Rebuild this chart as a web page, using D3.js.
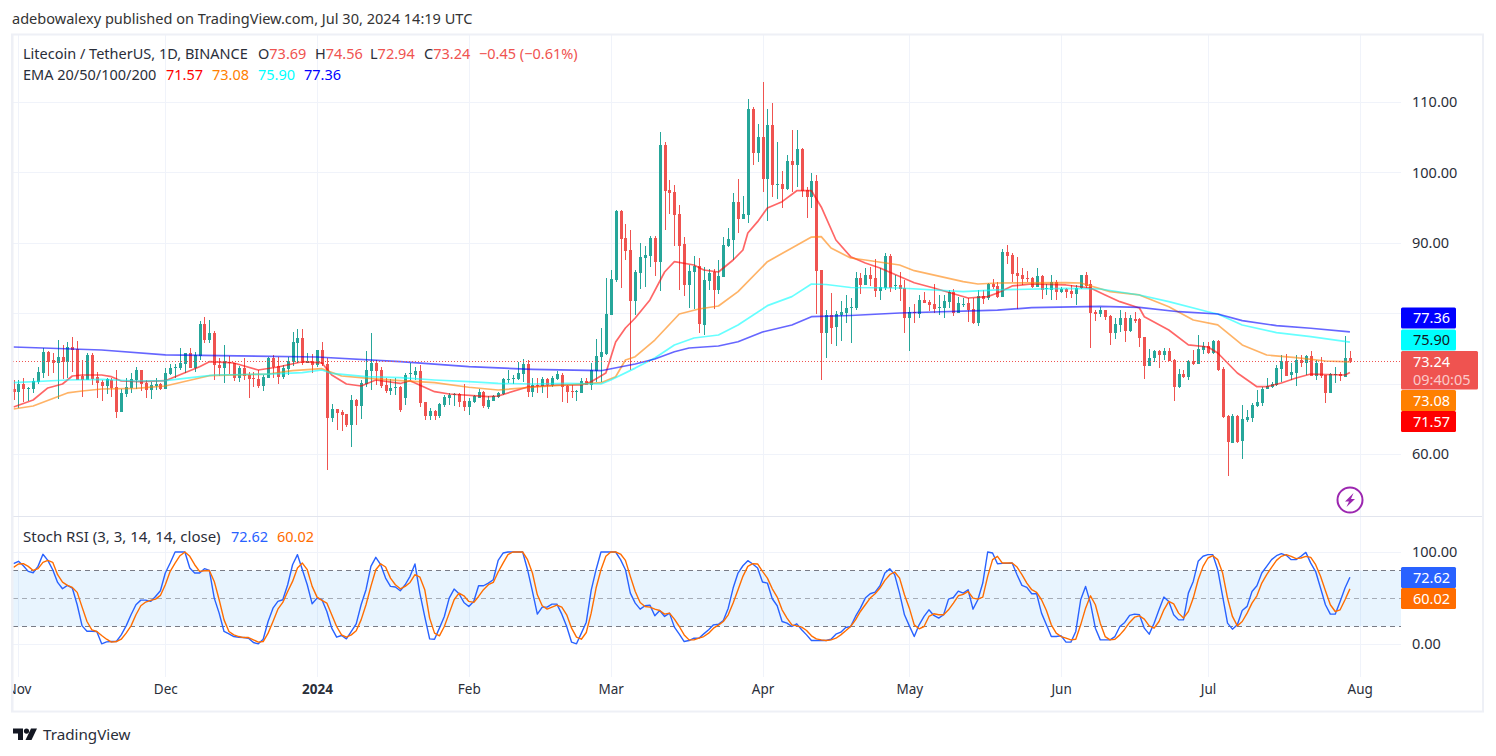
<!DOCTYPE html>
<html>
<head>
<meta charset="utf-8">
<title>LTC/USDT 1D</title>
<script src="https://d3js.org/d3.v7.min.js"></script>
<style>
  html, body { margin: 0; padding: 0; background: #fff; }
  svg { display: block; }
  text { font-family: "Noto Sans", "Open Sans", sans-serif; }
</style>
</head>
<body>
<div id="chart"></div>
<script>
// Daily LTC/USDT candles, 31 Oct 2023 through 30 Jul 2024, one entry per day.
const opens = [69.2,
  68.85,69.94,69.3,69.23,70.2,71.45,74.48,73.35,72.87,73.77,
  73.06,75.2,74.86,71.07,70.5,74.06,70.93,70.2,69.65,70.5,
  69.47,65.96,68.52,69.37,70.5,71.93,70.08,69.09,69.65,69.98,
  69.23,71.36,72.21,72.21,72.78,74.34,72.21,73.9,78.46,76.2,
  77.18,72.64,72.21,73.1,72.87,70.8,72.21,71.2,70.8,70.65,
  69.65,70.8,73.63,72.5,70.98,72.07,73.1,75.76,76.47,72.9,
  73.2,72.64,74.77,72.78,65.11,66.39,65.96,65.68,64.1,67.67,
  66.81,69.94,71.8,72.92,71.93,69.8,68.95,69.4,69.56,68.0,
  71.3,71.2,71.8,67.38,65.4,66.1,65.4,67,67.95,68.43,
  68.5,67.5,66.67,67.38,68,68.85,66.72,67.57,68.1,68.5,
  70.55,70.6,70.65,71.36,72.78,68.85,69.8,69.65,70.65,69.8,
  70.65,71.2,69.65,68.9,68.85,68.7,70.4,69.8,71.83,73.83,
  74.2,79.75,84.72,94.52,90.64,88.98,81.79,85.76,87.9,88.13,
  90.73,87.32,103.9,97.5,97.22,94.1,89.83,84.01,85.86,86.71,
  78.33,84.58,85.86,83.3,85.15,89.55,90.4,95.8,93.38,93.95,
  109,102.76,105.03,99.07,106.74,98.26,98.36,97.65,101.62,101.06,
  103.33,97.5,96.51,98.78,86.14,77.19,79.75,78.05,79.75,80.03,
  80.74,80.74,85,84.01,85.43,85,83.16,83.58,88.13,83.91,
  84.01,83.58,79.32,80.17,79.89,81.88,81.64,81.31,80.79,80.74,
  81.59,83.01,80.03,81.26,81.45,80.6,78.61,82.45,82.16,84.15,
  83.87,82.35,88.69,88.27,85.71,85.43,85,85,83.72,85.29,
  83.39,83.3,84.43,83.01,83.44,83.16,82.73,83.58,85.43,84.15,
  80.22,79.94,80.46,79.6,77.19,78.33,79.28,77.52,79.18,79.13,
  76.67,72.5,73.69,74.64,74.07,74.64,73.36,69.47,71.37,70.89,
  73.21,72.79,74.78,75.34,74.3,76.1,72.13,65.4,61.61,65.4,
  61.9,64.83,65.12,66.82,67.2,69.19,69.57,69.81,72.03,73.26,
  71.23,71.46,73.36,72.98,73.92,71.13,72.98,71.23,68.72,71.23,
  71.32,70.99,73.69];

const closes = [68.85,
  69.94,69.23,69.4,70.36,71.64,74.53,73.1,72.87,73.77,73.06,
  75.2,74.77,70.5,70.5,74.06,70.7,70.08,69.65,70.6,69.37,
  65.96,68.66,69.47,70.65,71.93,69.94,69.09,69.8,69.94,69.23,
  71.5,72.21,72.35,72.92,74.34,72.21,74,78.46,76.2,77.18,
  72.64,72.21,73.2,73.06,70.8,72.21,71.07,70.65,70.7,69.65,
  70.93,73.63,72.35,70.98,72.21,73.2,75.9,76.47,72.87,73.2,
  72.64,74.77,72.78,65.11,66.39,65.82,65.54,64.1,67.67,66.81,
  70.08,71.93,72.92,71.8,69.65,68.95,69.37,69.5,66.25,71.2,
  71.45,71.8,67.3,65.4,66.15,65.4,67.05,68.05,68.4,68.52,
  67.4,66.72,67.5,68.24,68.85,66.8,67.67,68.2,68.6,70.6,
  70.65,70.74,71.55,72.73,68.85,69.8,69.65,70.6,69.8,70.74,
  71.3,69.47,68.8,68.85,68.95,70.4,69.8,71.93,73.92,74.45,
  79.84,84.86,94.52,90.54,88.84,81.79,85.86,87.99,88.27,90.73,
  87.32,103.9,97.36,97.08,93.95,89.55,84.01,86,86.71,78.42,
  84.72,85.71,83.3,85.29,89.69,90.54,95.8,93.38,94.1,109,
  102.76,105,99.07,106.74,98.2,98.36,97.65,101.62,101.06,103.33,
  97.36,96.51,98.78,86,77.19,79.75,77.9,79.89,80.17,80.74,
  80.83,84.95,84.01,85.43,84.86,83.16,83.72,88.13,83.58,84.01,
  83.44,79.32,80.17,80.03,81.92,81.45,81.17,80.6,80.88,81.73,
  83.01,80.03,81.45,81.36,80.46,78.61,82.45,82.02,84.15,83.72,
  82.35,88.69,88.13,85.57,85.29,84.86,84.86,83.72,85.29,83.3,
  83.58,84.43,83.01,83.44,83.01,82.73,83.58,85.43,83.87,80.03,
  79.94,80.46,79.46,77.19,78.47,79.28,77.52,79.28,78.9,76.43,
  72.5,73.69,74.64,74.07,74.64,73.26,69.57,71.37,70.99,73.21,
  72.79,74.92,75.34,74.3,76.1,71.94,65.21,61.76,65.4,61.76,
  64.98,65.26,66.96,67.39,69.24,69.66,69.9,72.27,73.26,71.13,
  71.65,73.36,72.98,73.92,71.13,72.98,71.08,68.62,71.37,71.37,
  71.08,73.69,73.24];

const highs = [70.5,
  70.5,70.74,69.5,70.74,72.3,75,74.63,74.3,76.2,75.48,
  75.9,76.66,76.05,73.35,74.4,74.3,71.64,70.5,70.74,70.74,
  71.93,69.3,70.74,71.45,72.4,71.93,70.5,70.27,70.74,70.13,
  72.26,72.78,72.78,75.1,74.34,75.1,74.5,78.9,79.45,79,
  77.47,73.7,75.48,73.9,72.87,72.5,73.63,71.64,71.64,71.93,
  71.2,73.82,74,73.82,72.64,73.82,77.3,77.75,77.75,74.4,
  74.2,74.77,75.9,73.63,67.1,66.39,66.25,65.68,68.4,67.86,
  70.5,74.6,77.18,73.35,72.3,70.74,70.6,70.74,69.7,71.45,
  72.87,72.4,72.64,67.38,66.48,66.25,67.2,68.4,68.6,68.6,
  68.6,70,67.9,68.4,69.2,68.95,68.24,68.4,68.85,70.74,
  71.93,71.2,73.1,73.44,73.35,70.74,70.84,70.98,70.74,71.07,
  71.8,71.45,69.8,69.8,69.09,70.74,70.74,72.87,76.28,77.85,
  84.96,86.14,94.66,94.66,92.67,91.82,86.14,89.93,89.55,91.02,
  91,105.74,104.28,98.93,98.2,95.37,90.78,86.85,88.13,87.9,
  86.6,86.28,86.28,87.56,90.78,92.06,97.03,99.02,96.65,110.43,
  109.25,106.88,112.8,108.96,109.82,104.32,100.2,102.48,106,106,
  103.4,97.98,99.87,99.63,86.14,80.46,82.8,80.36,81.78,82.59,
  82.11,85.9,85.76,86.37,86.61,87.7,86.37,88.5,88.41,85.43,
  85.9,84.72,80.93,81.31,82.59,83.01,81.88,84.15,82.59,82.59,
  83.3,83.39,82.35,82.11,82.11,82.11,83.3,83.3,84.34,84.81,
  84.48,89.17,89.69,88.6,88.03,86.37,85.95,85.19,86.37,85.43,
  84.15,85.43,84.72,83.77,83.58,84.01,84.01,85.43,85.81,84.72,
  80.46,80.83,80.46,79.75,79.27,80.46,80.22,79.75,80.22,79.28,
  76.67,74.92,74.78,74.78,75.01,75.01,73.5,72.03,71.94,73.36,
  74.78,76.9,75.91,75.91,76.2,76.2,72.32,65.54,65.69,65.54,
  66.96,66.25,67.3,69.1,69.57,70.75,70.28,72.65,74.07,74.16,
  72.98,74.07,74.07,74.07,74.64,73.36,73.83,71.23,71.56,72.32,
  71.7,76.77,74.56];

const lows = [67.6,
  66.5,67.4,67.57,68.6,70,70.8,71.1,71.45,67.8,70.65,
  70.75,71.7,70.5,68.05,70.5,69.8,67.95,67.57,68.5,68.05,
  65.16,65.96,68.14,68.6,69.3,68.95,67.95,67.8,69.09,69.09,
  69.23,71.2,70.74,71.93,71.45,72.21,71.7,73.35,75.7,75.7,
  70.5,71.07,70.08,71.36,70.4,70.27,70.5,67.95,69.56,69.4,
  68.95,70.74,70.74,70,70.65,71.2,72.5,72.87,72.64,72.87,
  71.45,72.3,72.5,57.72,64.54,63.4,63.26,63.8,61.04,64.1,
  64.97,69.56,69.09,69.8,69.37,68.7,68.4,68.4,66,67,
  70.5,70.5,66.72,64.82,64.82,64.82,65.1,66.72,67,66.8,
  66.72,66.15,65.54,67.2,67.9,66.5,66.43,67.5,67.9,68.4,
  70.03,69.94,70.5,70.27,68.14,68.14,68.6,68.6,67.9,69.56,
  70.5,67.43,67.3,67.9,67.5,68.7,69.8,69.09,70.27,70.28,
  74,79.75,84.48,83.54,87.56,71.94,79.75,83.44,83.77,86.61,
  85.34,83.16,91.82,94.1,89.55,83.3,82.5,80.74,80.6,77.15,
  76.9,83.3,80.65,82.73,85.15,89.45,87.56,91.35,93.38,92.86,
  101.06,101.53,97.27,93.15,96.56,96.23,95,97.5,97.27,97.98,
  96.56,93.53,95,79.84,70.52,73.6,75.63,75.34,76.1,78.55,
  75.82,80.46,82.73,84.01,83.87,82.35,81.88,83.3,83.06,83.3,
  81.73,77.24,74.63,78.66,79.27,81.45,80.31,79.98,79.75,79.32,
  80.79,79.6,79.98,80.83,78.8,78.47,78.18,81.31,81.88,83.39,
  82.11,82.26,87,84.48,80.55,84.01,84.48,83.53,83.68,82.02,
  82.59,81.88,81.88,82.92,82.16,82.16,81.17,83.39,83.53,75.06,
  78.94,79.41,79.04,75.49,76.38,77.38,75.96,77.38,78.57,75.25,
  70.66,72.5,73.12,72.27,73.36,73.21,67.53,69.33,70.75,70.52,
  72.65,72.79,74.16,74.16,74.2,71.79,65.07,56.88,61.52,61.61,
  59.29,64.6,64.5,66.73,66.82,69.19,69.33,69.71,70.28,71.08,
  70.52,69.71,72.41,71.23,71.13,70.52,70.85,67.3,68.62,70.04,
  70.42,70.99,72.94];

// Moving averages, read at their bends: offsets count days from the first candle.
const ema200Days = [0,18,31,62,79,93,106,120,127,131,135,138,144,148,153,159,163,171,181,201,208,222,230,238,246,251,258,265,273];
const ema200 = [75.2,74.77,74.07,73.78,73.11,72.4,72.03,71.83,72.78,73.49,74.53,75.06,75.34,75.95,77.33,78.33,79.5,79.67,80.03,80.45,80.78,80.98,80.84,80.21,79.89,78.94,78.23,77.86,77.36];

const ema100Days = [0,11,18,25,31,38,41,52,59,63,65,72,79,86,93,99,106,113,120,122,127,131,135,139,144,148,154,159,163,166,171,181,194,201,215,222,226,230,236,244,246,251,258,265,273];
const ema100 = [70.13,70.51,70.6,70.37,70.41,70.98,71.22,71.36,71.55,71.93,71.46,70.98,70.84,70.51,70.27,70.04,69.94,70.04,69.94,70.51,72.2,73.64,75.49,76.48,76.9,78.33,81.07,82.35,84.15,84.08,83.65,83.58,83.06,83.3,83.54,83.44,83.01,82.59,81.64,80.21,79.89,78.33,77.23,76.66,75.9];

const ema50Days = [0,4,11,14,18,25,31,38,40,52,57,63,67,72,79,86,93,99,106,113,120,123,125,127,131,136,140,144,148,154,159,163,165,167,171,174,181,184,194,197,201,215,218,224,230,236,241,246,251,256,262,268,273];
const ema50 = [66.39,66.82,68.67,68.95,69.23,69.33,69.66,70.79,71.12,71.36,71.83,72.12,71.08,70.79,70.41,70.13,69.48,69.09,69.48,69.8,70.13,70.98,73.35,73.82,76.19,79.89,80.6,81.02,83.06,87.32,89.26,90.82,90.87,89.26,87.84,87.56,86.85,86.04,84.48,84.15,84.29,84.33,84.29,83.06,82.59,80.92,79.03,78.33,75.49,74.06,73.68,73.21,73.08];

const ema20Days = [0,4,7,10,12,14,18,20,22,26,31,35,38,40,45,50,54,59,63,65,68,71,74,79,81,86,89,97,99,105,111,116,118,121,123,125,127,130,133,135,139,141,144,147,149,150,152,154,157,160,163,165,168,171,174,177,184,188,195,199,201,204,208,215,220,223,226,230,231,236,240,244,246,250,254,256,259,262,265,272,273];
const ema20 = [66.68,67.67,69.38,69.94,71.08,71.22,71.22,70.98,70.37,70.27,70.41,71.55,72.4,73.11,72.93,71.93,72.36,73.11,72.93,71.22,69.94,69.66,70.51,70.02,70.41,68.85,68.52,68.14,68.24,69.52,69.8,69.8,70.27,71.51,75.91,77.9,79.32,81.88,85.85,87.32,86.85,86.14,85.85,87.56,88.98,91.39,93,94.94,95.84,97.4,97.4,95.09,90.4,88.03,87.13,86.42,84.33,83.58,82.16,82.35,82.87,83.87,84.15,84.01,83.58,82.59,81.64,80.74,79.5,77.62,75.49,75.2,74.35,71.51,69.56,69.56,70.09,70.8,71.36,71.22,71.57];

// Stochastic RSI, one entry per candle.
const stochK = [87.3,
  89.9,85.1,79,77.5,84.4,97.5,90.9,80.8,67,60.1,
  63.8,60.9,42.8,19.9,14.1,14.1,13.8,0.4,2.5,2.9,
  2.9,10.1,19.9,31.9,42.8,47.8,47.8,46.4,51.8,58,
  77.2,88,100,100,100,82.6,77.2,77.2,81.9,80,
  50,33.7,13.8,11.2,8.3,7.6,7.2,6.5,1.8,0.4,
  5.4,24.6,39.1,46.4,48.2,64.5,86.2,97.1,80.8,64.5,
  43.8,50,48.2,35.5,17.4,7.6,9.4,5.8,13.8,22.1,
  42.8,59.1,84.4,94.2,86.2,71.7,62.7,62,58,64.5,
  73.6,87,55.4,30,5.8,5.4,17.4,30,50,59.8,
  54.7,45.3,40.9,46.4,63.4,63.4,66.3,69.9,90.9,98.9,
  100,100,100,100,80.8,57.2,32.6,40.2,40.2,43.5,
  43.5,32.6,19.2,2.2,0.4,12,23.9,58.3,80.8,100,
  100,100,100,91.7,80.8,55.4,44.6,38,41.7,42.4,
  30.8,36.6,30.1,33.7,18.5,10.9,2.9,4,6.5,6.5,
  11.2,15.6,21,21.7,25.7,39.1,60.9,77.2,85.1,90.6,
  87,82.6,67.4,66.3,49.3,41.7,24.6,22.8,19.2,22.1,
  15.6,10.1,4,4,4,4,5.4,10.9,13,18.1,
  19.2,30.1,39.1,50,54.7,56.5,63.4,77.2,81.9,75.4,
  55.4,31.9,19.9,8.3,21,30.1,37.3,31.2,28.3,31.9,
  48.9,50.7,57.6,55.4,59.1,38,48.2,66.3,100,98.9,
  87.3,87.7,87.7,88,75.4,63.8,61.6,54.7,54.7,33.7,
  21,8.3,8.3,9.1,2.2,2.2,13.8,48.2,62.7,44.6,
  17.4,4.7,4.7,4.7,8.3,19.2,23.6,31.2,32.6,31.9,
  17.4,10.9,22.8,37.3,51.1,46.4,32,26.4,26.4,55.4,
  68.1,89.9,95.4,97.1,97.1,80.8,51.8,22.8,16.3,21,
  36.6,41,57.2,63.4,77.2,84.4,91.7,96,98.2,96.4,
  91.7,91.7,95.4,99.6,87.9,78.8,60.9,42.8,32.6,32.6,
  46.4,60.9,72.62];

const stochD = [83.3,
  87,87.3,84.4,80,81.9,88.8,90.9,88.8,75.4,67.4,
  63.8,61.6,56.2,40.2,24.6,15.6,13.8,9.4,5.4,2.2,
  2.9,5.4,12,19.9,31.9,41.7,45.7,47.5,48.9,52.9,
  64.5,79,88,96,100,95.3,86.2,79,79.7,80,
  68.1,48.2,26.4,13.8,10.1,8.3,7.2,7.2,4.7,2.2,
  2.9,12,24.6,38,45.3,57.2,68.1,82.6,88,80.8,
  62.7,51.1,47.5,44.6,31.9,19.2,10.1,7.6,10.1,14.5,
  26.4,42.8,62.7,80.8,87.3,83.7,71.7,64.5,60.1,62.7,
  67,75.4,72.8,59.1,28.3,12,9.1,19.2,33.7,48.2,
  55.4,52.5,46.4,45.3,51.8,59.1,64.5,67,78.3,88,
  97.1,100,100,100,91.7,77.2,53.6,41.7,38,40.2,
  42.4,40.2,31.9,17.4,7.6,5.4,12.7,33.7,60.9,80.8,
  95.3,100,100,97.8,90.9,73.6,57.2,45.3,40.9,40.2,
  38,36.6,32.6,33.7,27.2,19.2,10.1,4.7,4.7,6.5,
  8.3,12,17.4,20.7,24.6,31.9,44.6,59.1,73.6,84.4,
  87.3,87,79,71.7,60.1,51.1,37.3,28.3,21,19.9,
  18.5,14.9,9.1,5.8,4.7,4,4.7,6.5,10.1,14.5,
  19.2,26.4,35.5,42.8,50,54.7,60.9,69.2,75.4,78.3,
  71.7,53.6,39.1,21,16.7,19.2,30.1,33,31.9,31.9,
  37.3,44.6,52.5,54,57.2,50,48.9,51.1,73.6,91.7,
  95.3,88,88,88,83.7,75.4,66.3,59.1,56.2,48.2,
  36.6,21,12,8.3,6.5,4.7,5.4,21,39.1,52.5,
  42.8,22.8,8.3,4.7,5.4,10.1,16.3,23.6,29.3,30.8,
  27.2,19.9,17.4,24.6,37.3,46.4,43.8,33.7,28.3,35.5,
  50,69.9,84.4,93.5,96,91.7,77.2,50,30.1,19.9,
  24.6,33.7,44.6,52.5,66.3,75.4,83.3,90.9,95.3,97.1,
  95.3,92.8,93.5,95.3,94.2,86.2,73.6,58,42.8,35.5,
  37.3,48.2,60.02];

const priceTicks = [60, 70, 80, 90, 100, 110];
const priceTickLabels = [60, 90, 100, 110];
const stochTicks = [0, 100];
const stochBands = [20, 50, 80];
const monthNames = ["Nov", "Dec", "2024", "Feb", "Mar", "Apr", "May", "Jun", "Jul", "Aug"];
const barChange = -0.45;
const barChangePct = -0.61;
const countdown = "09:40:05";

const UP = "#26a69a", DOWN = "#ef5350", GRID = "#f0f3fa", FRAME = "#eef0f6", INK = "#131722";
const emaColors = ["#ff0000", "#ff8000", "#00ffff", "#0000ff"];
const f2 = d3.format(".2f");
const minus = s => s.replace(/-/g, "\u2212");
const crisp = v => Math.round(v) + .5;

const W = 1496, H = 756;
const L = 13, R = 1401;
const mainTop = 35, mainBot = 516, lowerBot = 677;

const firstDay = new Date(Date.UTC(2023, 9, 31));
const barDates = closes.map((_, i) => d3.utcDay.offset(firstDay, i));
const dayOf = n => d3.utcDay.offset(firstDay, n);
const monthStarts = d3.utcMonth.range(new Date(Date.UTC(2023, 10, 1)), new Date(Date.UTC(2024, 8, 1)));

const x = d3.scaleUtc().domain([firstDay, new Date(Date.UTC(2024, 7, 1))]).range([13.56, 1359.7]);
const yPrice = d3.scaleLinear().domain([60, 110]).range([454, 102]);
const yStoch = d3.scaleLinear().domain([0, 100]).range([644.2, 552]);

const svg = d3.select("#chart").append("svg").attr("width", W).attr("height", H).attr("viewBox", [0, 0, W, H]);
const defs = svg.append("defs");
defs.append("clipPath").attr("id", "plot-clip").append("rect").attr("x", L).attr("y", mainTop).attr("width", R - L).attr("height", mainBot - mainTop);
defs.append("clipPath").attr("id", "axis-clip").append("rect").attr("x", L).attr("y", 678).attr("width", R - L).attr("height", 33);

// Vertical and horizontal grid
const grid = svg.append("g").attr("shape-rendering", "crispEdges").attr("stroke", GRID).attr("stroke-width", 1);
grid.selectAll(".v").data(monthStarts).join("line")
  .attr("x1", d => crisp(x(d))).attr("x2", d => crisp(x(d)))
  .attr("y1", mainTop).attr("y2", lowerBot);
grid.selectAll(".hp").data(priceTicks).join("line")
  .attr("x1", L).attr("x2", R).attr("y1", d => crisp(yPrice(d))).attr("y2", d => crisp(yPrice(d)));
grid.selectAll(".hs").data(stochTicks).join("line")
  .attr("x1", L).attr("x2", R).attr("y1", d => crisp(yStoch(d))).attr("y2", d => crisp(yStoch(d)));

// Candles
const plot = svg.append("g").attr("clip-path", "url(#plot-clip)");
const candles = plot.append("g").attr("shape-rendering", "crispEdges")
  .selectAll("g").data(barDates).join("g")
  .attr("fill", (d, i) => closes[i] >= opens[i] ? UP : DOWN);
candles.append("rect")
  .attr("x", d => Math.round(x(d)))
  .attr("width", 1)
  .attr("y", (d, i) => yPrice(highs[i]))
  .attr("height", (d, i) => yPrice(lows[i]) - yPrice(highs[i]));
candles.append("rect")
  .attr("x", d => Math.round(x(d)) - 1)
  .attr("width", 3)
  .attr("y", (d, i) => yPrice(Math.max(opens[i], closes[i])))
  .attr("height", (d, i) => Math.max(1, Math.abs(yPrice(opens[i]) - yPrice(closes[i]))));

// Last-price dotted guide
svg.append("line").attr("x1", L).attr("x2", R)
  .attr("y1", crisp(yPrice(closes[closes.length - 1]))).attr("y2", crisp(yPrice(closes[closes.length - 1])))
  .attr("stroke", DOWN).attr("stroke-width", 1).attr("stroke-dasharray", "1 2")
  .attr("shape-rendering", "crispEdges");

// Moving averages
const emaLine = d3.line().x(d => x(dayOf(d[0]))).y(d => yPrice(d[1]));
const emaSeries = [[ema20Days, ema20], [ema50Days, ema50], [ema100Days, ema100], [ema200Days, ema200]];
emaSeries.forEach(([days, vals], k) => {
  plot.append("path").datum(d3.zip(days, vals)).attr("d", emaLine)
    .attr("fill", "none").attr("stroke", emaColors[k]).attr("stroke-width", 1.7)
    .attr("stroke-opacity", .6).attr("stroke-linejoin", "round");
});

// Pane separator
svg.append("rect").attr("x", L).attr("y", mainBot).attr("width", 1470).attr("height", 1).attr("fill", "#e2e5ee");

// Stochastic RSI pane
svg.append("rect").attr("x", L).attr("width", R - L)
  .attr("y", crisp(yStoch(80))).attr("height", crisp(yStoch(20)) - crisp(yStoch(80)))
  .attr("fill", "#2196f3").attr("fill-opacity", .1);
svg.selectAll(".band").data(stochBands).join("line")
  .attr("x1", L).attr("x2", R).attr("y1", d => crisp(yStoch(d))).attr("y2", d => crisp(yStoch(d)))
  .attr("stroke", "#787b86").attr("stroke-width", 1)
  .attr("stroke-dasharray", "5 4")
  .attr("stroke-opacity", d => d === 50 ? .6 : 1)
  .attr("shape-rendering", "crispEdges");
const stochLine = d3.line().x((d, i) => x(barDates[i])).y(d => yStoch(d));
[[stochK, "#2962ff"], [stochD, "#ff6d00"]].forEach(([vals, c]) => {
  svg.append("path").datum(vals).attr("d", stochLine).attr("fill", "none")
    .attr("stroke", c).attr("stroke-width", 1.4).attr("stroke-linejoin", "round");
});

// Chart frame
svg.append("rect").attr("x", 12).attr("y", 34.5).attr("width", 1471).attr("height", 677)
  .attr("fill", "none").attr("stroke", FRAME).attr("stroke-width", 2);
svg.append("rect").attr("x", 11).attr("y", 34).attr("width", 2.5).attr("height", 678).attr("fill", FRAME);

// Axes
const TICK_FONT = 14.5;
const priceAxis = d3.axisRight(yPrice).tickValues(priceTickLabels).tickSize(0).tickPadding(0).tickFormat(f2);
const gPrice = svg.append("g").attr("transform", "translate(1412,0)").call(priceAxis);
gPrice.select(".domain").remove();
gPrice.selectAll("text").attr("font-size", TICK_FONT).attr("fill", "#2a2e39").style("font-family", '"Noto Sans"');

const stochAxis = d3.axisRight(yStoch).tickValues(stochTicks).tickSize(0).tickPadding(0).tickFormat(f2);
const gStoch = svg.append("g").attr("transform", "translate(1412,0)").call(stochAxis);
gStoch.select(".domain").remove();
gStoch.selectAll("text").attr("font-size", TICK_FONT).attr("fill", "#2a2e39").style("font-family", '"Noto Sans"');

const timeAxis = d3.axisBottom(x).tickValues(monthStarts).tickSize(0).tickPadding(0)
  .tickFormat((d, i) => monthNames[i]);
const gTime = svg.append("g").attr("clip-path", "url(#axis-clip)").append("g")
  .attr("transform", "translate(0,684)").call(timeAxis);
gTime.select(".domain").remove();
gTime.selectAll("text").attr("font-size", 13.5).attr("fill", "#2a2e39").style("font-family", '"Noto Sans"')
  .attr("font-weight", (d, i) => monthNames[i] === "2024" ? 700 : 400);

// Value tags on the price scale
const last = a => a[a.length - 1];
const tag = (yc, fill, txt, txtFill) => {
  svg.append("rect").attr("x", 1401).attr("y", yc - 10.5).attr("width", 55).attr("height", 21).attr("rx", 1.5).attr("fill", fill);
  svg.append("text").attr("x", 1413).attr("y", yc + 5).attr("font-size", TICK_FONT).attr("fill", txtFill).text(txt);
};
tag(318, emaColors[3], f2(last(ema200)), "#fff");
tag(340, emaColors[2], f2(last(ema100)), INK);
tag(400.5, emaColors[1], f2(last(ema50)), "#fff");
tag(421.5, emaColors[0], f2(last(ema20)), "#fff");
svg.append("rect").attr("x", 1401).attr("y", 351).attr("width", 77).attr("height", 38.5).attr("rx", 1.5).attr("fill", DOWN);
svg.append("text").attr("x", 1413).attr("y", 367).attr("font-size", TICK_FONT).attr("fill", "#fff").text(f2(last(closes)));
svg.append("text").attr("x", 1413).attr("y", 385).attr("font-size", TICK_FONT).attr("fill", "#fff").attr("fill-opacity", .7).text(countdown);
tag(577.5, "#2962ff", f2(last(stochK)), "#fff");
tag(598.5, "#ff6d00", f2(last(stochD)), "#fff");

// Header and legends
const label = (px, py, txt, fill, size = 14.5) =>
  svg.append("text").attr("x", px).attr("y", py).attr("font-size", size).attr("fill", fill).text(txt);
label(12, 24, "adebowalexy published on TradingView.com, Jul 30, 2024 14:19 UTC", "#333", 14.55);

label(23, 59, "Litecoin / TetherUS, 1D, BINANCE", "#2a2e39");
const n = closes.length - 1;
[["O", opens[n], 258], ["H", highs[n], 315], ["L", lows[n], 370], ["C", closes[n], 424]].forEach(([k, v, px]) => {
  const t = label(px, 59, "", "#2a2e39");
  t.append("tspan").text(k);
  t.append("tspan").attr("fill", DOWN).text(f2(v));
});
label(479, 59, minus(`${f2(barChange)} (${f2(barChangePct)}%)`), DOWN);

label(23, 80, "EMA 20/50/100/200", "#2a2e39");
[[ema20, emaColors[0], 166], [ema50, emaColors[1], 212], [ema100, emaColors[2], 258], [ema200, emaColors[3], 304]].forEach(([a, c, px]) => {
  label(px, 80, f2(last(a)), c);
});

label(23, 542, "Stoch RSI (3, 3, 14, 14, close)", "#2a2e39", 15);
label(231, 542, f2(last(stochK)), "#2962ff");
label(277, 542, f2(last(stochD)), "#ff6d00");

// Bolt badge near the last bar
const badge = svg.append("g").attr("transform", "translate(1350,500)");
badge.append("circle").attr("r", 12.5).attr("fill", "#fff").attr("stroke", "#9c27b0").attr("stroke-width", 2);
badge.append("path").attr("d", "M3.5,-7 L-5,1.5 L-1,1.5 L-3.5,7 L5,-1 L1,-1 Z").attr("fill", "#9c27b0");

// Footer wordmark
const logo = svg.append("g").attr("transform", "translate(13,728.5)").attr("fill", INK);
logo.append("path").attr("d", "M0,0 H10 V11.5 H5 V5 H0 Z");
logo.append("circle").attr("cx", 13.5).attr("cy", 2.6).attr("r", 2.6);
logo.append("path").attr("d", "M18,0 H24 L18.5,11.5 H12.5 Z");
label(43, 740, "TradingView", "#2a2e39", 15.2);
</script>
</body>
</html>
